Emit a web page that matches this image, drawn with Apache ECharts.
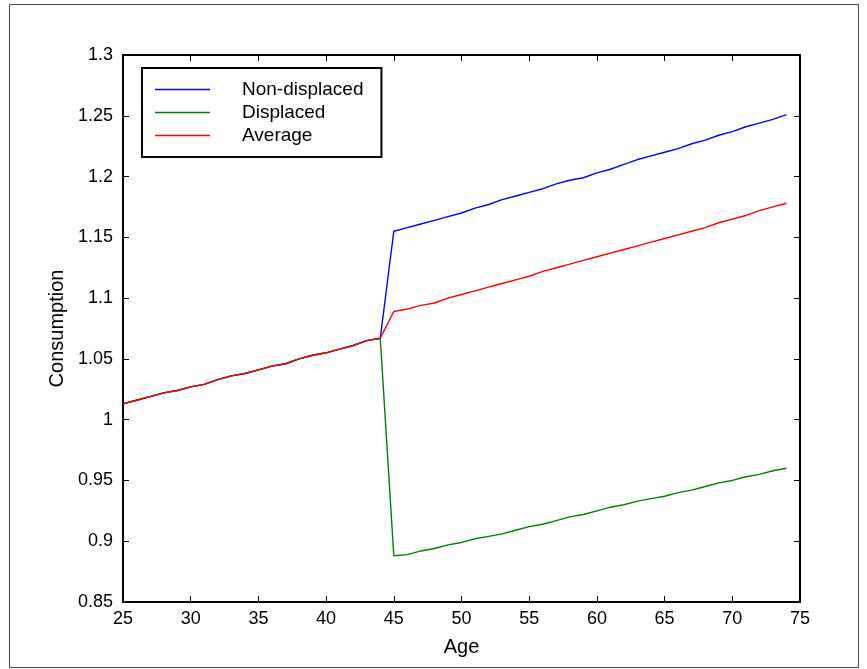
<!DOCTYPE html>
<html><head><meta charset="utf-8">
<script src="https://cdn.jsdelivr.net/npm/echarts@6/dist/echarts.min.js"></script>
<style>html,body{margin:0;padding:0;background:#fff}#c{width:867px;height:669px}</style>
</head><body><div id="c"></div>
<script>
const agesPre = [25,26,27,28,29,30,31,32,33,34,35,36,37,38,39,40,41,42,43,44];
const valuesPre = [1.013,1.016,1.019,1.022,1.024,1.027,1.029,1.033,1.036,1.038,1.041,1.044,1.046,1.050,1.053,1.055,1.058,1.061,1.065,1.067];
const agesPost = [45,46,47,48,49,50,51,52,53,54,55,56,57,58,59,60,61,62,63,64,65,66,67,68,69,70,71,72,73,74];
const nonDisplaced = [1.155,1.158,1.161,1.164,1.167,1.170,1.174,1.177,1.181,1.184,1.187,1.190,1.194,1.197,1.199,1.203,1.206,1.210,1.214,1.217,1.220,1.223,1.227,1.230,1.234,1.237,1.241,1.244,1.247,1.251];
const displaced = [0.888,0.889,0.892,0.894,0.897,0.899,0.902,0.904,0.906,0.909,0.912,0.914,0.917,0.920,0.922,0.925,0.928,0.930,0.933,0.935,0.937,0.940,0.942,0.945,0.948,0.950,0.953,0.955,0.958,0.960];
const average = [1.089,1.091,1.094,1.096,1.100,1.103,1.106,1.109,1.112,1.115,1.118,1.122,1.125,1.128,1.131,1.134,1.137,1.140,1.143,1.146,1.149,1.152,1.155,1.158,1.162,1.165,1.168,1.172,1.175,1.178];
const seriesNames = ['Non-displaced','Displaced','Average'];

function build(post){
  const d = agesPre.map((a,i)=>[a, valuesPre[i]]);
  agesPost.forEach((a,i)=>d.push([a, post[i]]));
  return d;
}
const font = 'Liberation Sans, Arial, sans-serif';
const chart = echarts.init(document.getElementById('c'), null, {renderer:'canvas'});
const axLine = {show:true, lineStyle:{color:'#000', width:2}};
const tick = {show:true, inside:true, length:6, lineStyle:{color:'#000', width:1}};
chart.setOption({
  animation:false,
  backgroundColor:'#fff',
  textStyle:{fontFamily:font},
  graphic:[{type:'rect', shape:{x:9.5,y:4.5,width:849,height:663}, style:{fill:'none', stroke:'#444', lineWidth:1}, z:-1}],
  grid:{left:123, top:55, right:67, bottom:67},
  legend:{
    orient:'vertical', left:142, top:68,
    data:seriesNames,
    icon:'path://M0,0 L55,0 L55,1.4 L0,1.4 Z',
    itemWidth:55, itemHeight:2, itemGap:4,
    padding:[12,18,12,13],
    borderColor:'#000', borderWidth:2,
    textStyle:{color:'#000', fontSize:19, fontFamily:font, padding:[0,0,0,27], lineHeight:19},
    selectedMode:false
  },
  xAxis:[
    {type:'value', min:25, max:75, interval:5, position:'bottom',
     axisLine:axLine, axisTick:tick,
     axisLabel:{color:'#000', fontSize:18, margin:8, fontFamily:font},
     splitLine:{show:false},
     name:'Age', nameLocation:'middle', nameGap:35, nameTextStyle:{color:'#000', fontSize:20, fontFamily:font}},
    {type:'value', min:25, max:75, interval:5, position:'top',
     axisLine:axLine, axisTick:tick,
     axisLabel:{show:false}, splitLine:{show:false}}
  ],
  yAxis:[
    {type:'value', min:0.85, max:1.3, interval:0.05, position:'left',
     axisLine:axLine, axisTick:tick,
     axisLabel:{color:'#000', fontSize:18, margin:10, fontFamily:font, formatter:v=>String(+v.toFixed(2))},
     splitLine:{show:false},
     name:'Consumption', nameLocation:'middle', nameGap:55, nameTextStyle:{color:'#000', fontSize:20, fontFamily:font}},
    {type:'value', min:0.85, max:1.3, interval:0.05, position:'right',
     axisLine:axLine, axisTick:tick,
     axisLabel:{show:false}, splitLine:{show:false}}
  ],
  series:[
    {name:seriesNames[0], type:'line', data:build(nonDisplaced), symbol:'none', lineStyle:{color:'#0000ff', width:1.4}, itemStyle:{color:'#0000ff'}},
    {name:seriesNames[1], type:'line', data:build(displaced), symbol:'none', lineStyle:{color:'#008000', width:1.4}, itemStyle:{color:'#008000'}},
    {name:seriesNames[2], type:'line', data:build(average), symbol:'none', lineStyle:{color:'#ff0000', width:1.4}, itemStyle:{color:'#ff0000'}}
  ]
});
</script></body></html>
